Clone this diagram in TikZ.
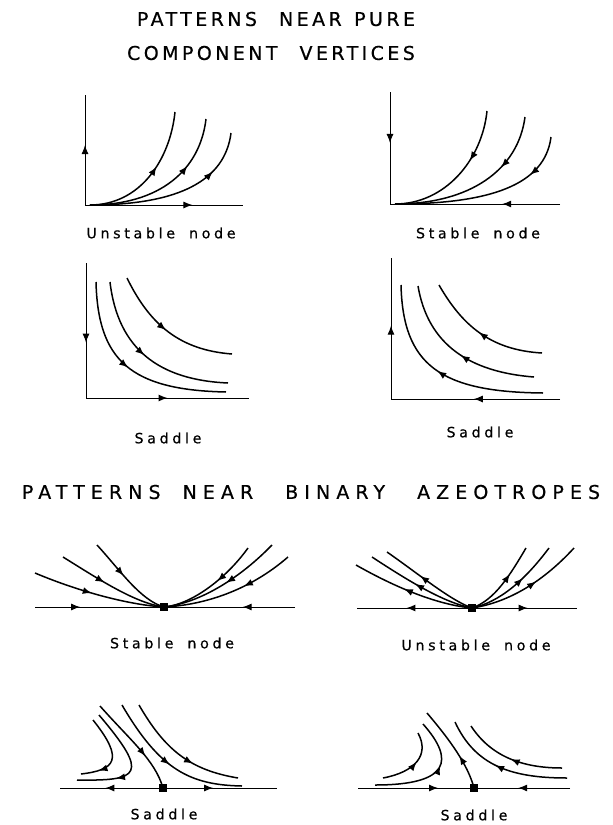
\documentclass[tikz,border=0pt]{standalone}
\usepackage{fontspec}
\newfontfamily\letterfont[LetterSpace=18,FakeBold=0.6]{DejaVu Sans}
\newfontfamily\widefont[LetterSpace=32,FakeBold=0.6]{DejaVu Sans}
\newfontfamily\labelfont[LetterSpace=26,FakeBold=0.5]{DejaVu Sans}
\usetikzlibrary{arrows.meta,decorations.markings}
\tikzset{
  fwd/.style={postaction={decorate,decoration={markings,mark=at position #1 with {\arrow{Latex[length=9pt,width=7pt]}}}}},
  bwd/.style={postaction={decorate,decoration={markings,mark=at position #1 with {\arrowreversed{Latex[length=9pt,width=7pt]}}}}},
  traj/.style={line width=1.5pt},
  axis/.style={line width=1pt},
  sq/.style={fill=black,minimum size=8.5pt,inner sep=0pt,draw=none,rectangle},
  ttl/.style={font=\letterfont\fontsize{19}{21}\selectfont,inner sep=0pt},
  wttl/.style={font=\widefont\fontsize{19}{21}\selectfont,inner sep=0pt},
  lbl/.style={font=\labelfont\fontsize{14.2}{16}\selectfont,inner sep=0pt},
}
\begin{document}
\begin{tikzpicture}[x=1pt,y=-1pt]
\path[use as bounding box] (0,0) rectangle (613,825);
% titles
\node[ttl] (t1) at (276,19) {PATTERNS\hspace{22pt}NEAR\ \hspace{3pt}PURE};
\node[ttl] (t2) at (271,53) {COMPONENT\hspace{22pt}VERTICES};
\node[wttl] (t3) at (311,492) {PATTERNS\hspace{22pt}NEAR\hspace{32pt}BINARY\hspace{32pt}AZEOTROPES};
% labels
\node[lbl] (l1) at (161,233) {Unstable\hspace{14pt}node};
\node[lbl] (l2) at (478,233) {Stable\hspace{14pt}node};
\node[lbl] (l3) at (168,438) {Saddle};
\node[lbl] (l4) at (480,432) {Saddle};
\node[lbl] (l5) at (172,643) {Stable\hspace{14pt}node};
\node[lbl] (l6) at (476,645) {Unstable\hspace{14pt}node};
\node[lbl] (l7) at (164,814) {Saddle};
\node[lbl] (l8) at (474,815) {Saddle};

% ---------- panel 1: unstable node ----------
\coordinate (o1) at (85,205);
\coordinate (v1) at (85,95);
\coordinate (h1) at (243,205);
\draw[axis,fwd=0.545] (o1) -- (v1);
\draw[axis,fwd=0.68] (o1) -- (h1);
\draw[traj,fwd=0.58] (90,205) .. controls (140,205) and (170,160) .. (175,112);
\draw[traj,fwd=0.68] (90,205) .. controls (160,205) and (200,170) .. (206,119);
\draw[traj,fwd=0.75] (90,205) .. controls (180,205) and (225,180) .. (231,133);

% ---------- panel 2: stable node ----------
\coordinate (o2) at (390,204);
\coordinate (v2) at (390,92);
\coordinate (h2) at (560,204);
\draw[axis,fwd=0.455] (v2) -- (o2);
\draw[axis,fwd=0.34] (h2) -- (o2);
\draw[traj,bwd=0.63] (395,204) .. controls (445,204) and (482,160) .. (487,111);
\draw[traj,bwd=0.67] (395,204) .. controls (470,204) and (518,170) .. (525,117);
\draw[traj,bwd=0.76] (395,204) .. controls (490,204) and (545,185) .. (551,137);

% ---------- panel 3: saddle ----------
\coordinate (o3) at (86,398);
\coordinate (v3) at (86,263);
\coordinate (h3) at (249,398);
\draw[axis,fwd=0.59] (v3) -- (o3);
\draw[axis,fwd=0.5] (o3) -- (h3);
\draw[traj,fwd=0.48] (96,282) .. controls (98,360) and (130,390) .. (226,392);
\draw[traj,fwd=0.48] (110,282) .. controls (118,350) and (160,380) .. (228,383);
\draw[traj,fwd=0.48] (127,278) .. controls (150,325) and (180,350) .. (232,354);

% ---------- panel 4: saddle ----------
\coordinate (o4) at (391,399);
\coordinate (v4) at (391,258);
\coordinate (h4) at (560,399);
\draw[axis,fwd=0.52] (o4) -- (v4);
\draw[axis,fwd=0.51] (h4) -- (o4);
\draw[traj,bwd=0.47] (401,285) .. controls (403,365) and (440,392) .. (543,393);
\draw[traj,bwd=0.52] (418,286) .. controls (428,345) and (470,372) .. (534,377);
\draw[traj,bwd=0.48] (439,285) .. controls (462,325) and (490,350) .. (542,353);

% ---------- panel 5: stable node (azeotrope) ----------
\node[sq] (s5) at (164,607) {};
\coordinate (a5l) at (35,607);
\coordinate (a5r) at (295,607);
\draw[axis,fwd=0.35] (a5l) -- (s5.center);
\draw[axis,fwd=0.4] (a5r) -- (s5.center);
\draw[traj,fwd=0.45] (35,573) .. controls (80,592) and (130,605) .. (s5.center);
\draw[traj,fwd=0.43] (63,557) .. controls (100,580) and (135,603) .. (s5.center);
\draw[traj,fwd=0.44] (97,545) .. controls (120,570) and (140,600) .. (s5.center);
\draw[traj,fwd=0.43] (248,548) .. controls (225,580) and (190,605) .. (s5.center);
\draw[traj,fwd=0.47] (272,545) .. controls (240,578) and (200,603) .. (s5.center);
\draw[traj,fwd=0.39] (288,557) .. controls (250,590) and (205,605) .. (s5.center);

% ---------- panel 6: unstable node (azeotrope) ----------
\node[sq] (s6) at (472,608) {};
\coordinate (a6l) at (357,608);
\coordinate (a6r) at (577,608);
\draw[axis,fwd=0.57] (s6.center) -- (a6l);
\draw[axis,fwd=0.53] (s6.center) -- (a6r);
\draw[traj,bwd=0.43] (356,565) .. controls (400,590) and (440,605) .. (s6.center);
\draw[traj,bwd=0.45] (372,557) .. controls (410,582) and (445,603) .. (s6.center);
\draw[traj,bwd=0.4] (387,552) .. controls (420,575) and (450,600) .. (s6.center);
\draw[traj,bwd=0.37] (526,548) .. controls (510,575) and (495,600) .. (s6.center);
\draw[traj,bwd=0.4] (549,548) .. controls (525,580) and (500,602) .. (s6.center);
\draw[traj,bwd=0.42] (574,548) .. controls (540,585) and (505,603) .. (s6.center);

% ---------- panel 7: saddle (azeotrope) ----------
\node[sq] (s7) at (163,788) {};
\coordinate (a7l) at (60,788);
\coordinate (a7r) at (277,788);
\draw[axis,fwd=0.56] (s7.center) -- (a7l);
\draw[axis,fwd=0.44] (s7.center) -- (a7r);
\draw[traj,fwd=0.78] (93,720) .. controls (125,760) and (115,770) .. (81,774);
\draw[traj,fwd=0.68] (99,715) .. controls (150,775) and (140,781) .. (77,780);
\draw[traj,fwd=0.65] (100,706) .. controls (130,740) and (155,760) .. (s7.center);
\draw[traj,fwd=0.5] (122,705) .. controls (160,770) and (190,785) .. (242,786);
\draw[traj,fwd=0.63] (139,705) .. controls (165,750) and (190,770) .. (238,778);

% ---------- panel 8: saddle (azeotrope) ----------
\node[sq] (s8) at (474,788) {};
\coordinate (a8l) at (358,788);
\coordinate (a8r) at (570,788);
\draw[axis,fwd=0.69] (a8l) -- (s8.center);
\draw[axis,fwd=0.54] (a8r) -- (s8.center);
\draw[traj,bwd=0.45] (418,733) .. controls (430,755) and (415,772) .. (383,778);
\draw[traj,bwd=0.4] (423,724) .. controls (455,760) and (450,785) .. (375,785);
\draw[traj,bwd=0.6] (427,713) .. controls (450,740) and (468,765) .. (s8.center);
\draw[traj,bwd=0.45] (455,722) .. controls (475,765) and (510,778) .. (567,778);
\draw[traj,bwd=0.5] (471,726) .. controls (490,755) and (520,768) .. (562,768);
\end{tikzpicture}
\end{document}
